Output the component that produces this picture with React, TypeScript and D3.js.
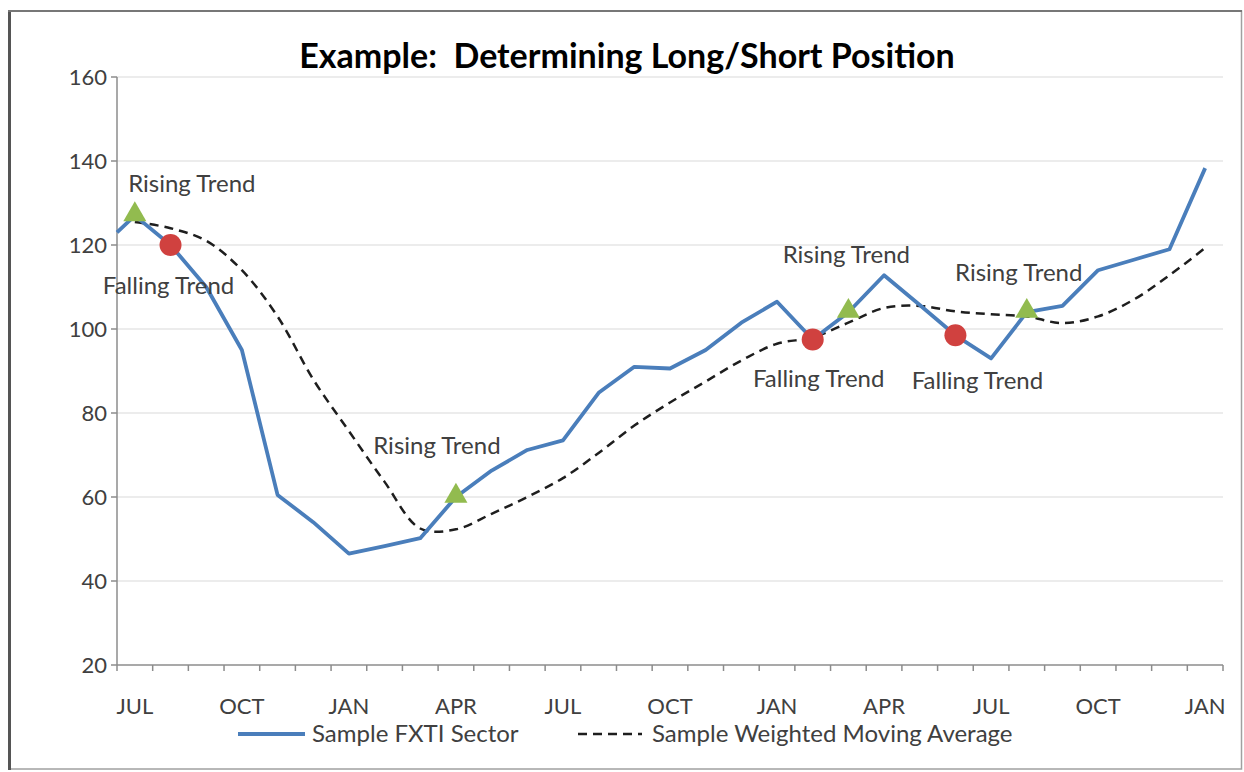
import React from 'react';
import * as d3 from 'd3';

const months = [
  'JUL', 'AUG', 'SEP', 'OCT', 'NOV', 'DEC', 'JAN', 'FEB', 'MAR', 'APR', 'MAY', 'JUN',
  'JUL', 'AUG', 'SEP', 'OCT', 'NOV', 'DEC', 'JAN', 'FEB', 'MAR', 'APR', 'MAY', 'JUN',
  'JUL', 'AUG', 'SEP', 'OCT', 'NOV', 'DEC', 'JAN',
];

// value where the sector line enters at the left edge of the plot
const sectorStart = 123;
const sectorValues = [
  127, 120, 110, 95, 60.5, 54, 46.5, 48.3, 50.2, 60, 66.3, 71.2,
  73.5, 84.8, 91, 90.6, 95, 101.5, 106.5, 97.5, 104, 112.8, 105.7, 98.5,
  93, 104, 105.5, 114, 116.5, 119, 138.3,
];
const averageValues = [
  125.5, 124, 121, 114, 103, 88, 75.7, 63.6, 52.5, 52.3, 56, 60,
  64.5, 70.5, 77, 82.5, 87.5, 92.5, 96.5, 98, 101.5, 105, 105.5, 104.2,
  103.5, 103, 101.4, 103, 107, 112.8, 119.3,
];

const yTicks = [20, 40, 60, 80, 100, 120, 140, 160];

const signalMonths = [0, 1, 9, 19, 20, 23, 25];
const signalKinds = ['rise', 'fall', 'rise', 'fall', 'rise', 'fall', 'rise'];

// label offsets from each marker, in px
const labelOffsets: [number, number][] = [
  [57, -32], [-2, 41], [-19, -51], [6, 39], [-2, -58], [22, 45], [-8, -40],
];

const W = 1244;
const H = 772;
const plot = { left: 117, right: 1223, top: 77, bottom: 665 };
const font = 'Lato, "Open Sans", sans-serif';
const blue = '#4a7ebb';
const textColor = '#404040';

export default function App() {
  const x = d3.scaleLinear().domain([-0.5, months.length - 0.5]).range([plot.left, plot.right]);
  const y = d3.scaleLinear().domain([20, 160]).range([plot.bottom, plot.top]);

  const sectorPts: [number, number][] = [[-0.5, sectorStart], ...sectorValues.map((v, i) => [i, v] as [number, number])];
  const sectorLine = d3.line<[number, number]>().x(d => x(d[0])).y(d => y(d[1]))(sectorPts) || '';
  const avgLine = d3.line<number>().x((_, i) => x(i)).y(d => y(d)).curve(d3.curveCatmullRom.alpha(0.5))(averageValues) || '';

  const tri = d3.symbol().type(d3.symbolTriangle).size(230)() || '';

  const boundaries = d3.range(months.length + 1).map(i => i - 0.5);

  return (
    <svg width={W} height={H} style={{ position: 'absolute', left: 0, top: 0, background: '#fff' }} fontFamily={font}>
      <rect x={0} y={0} width={W} height={H} fill="#fff" />
      {/* frame */}
      <rect x={9.5} y={11} width={1232} height={758} fill="none" stroke="#a0a0a0" strokeWidth={1.5} />
      <line x1={9.5} y1={10} x2={9.5} y2={770} stroke="#555" strokeWidth={3} />
      <line x1={8} y1={11} x2={1242} y2={11} stroke="#777" strokeWidth={2} />

      <text x={627} y={68} textAnchor="middle" fontSize={34} fontWeight="bold" fill="#000" style={{ whiteSpace: 'pre' }}>
        {'Example:  Determining Long/Short Position'}
      </text>

      {/* gridlines */}
      {yTicks.filter(t => t !== 20).map(t => (
        <line key={t} x1={plot.left} x2={plot.right} y1={y(t)} y2={y(t)} stroke="#d9d9d9" strokeWidth={1.2} />
      ))}

      {/* y axis */}
      <line x1={plot.left} x2={plot.left} y1={plot.top} y2={plot.bottom} stroke="#8c8c8c" strokeWidth={1.5} />
      {yTicks.map(t => (
        <g key={t}>
          <line x1={plot.left - 6} x2={plot.left} y1={y(t)} y2={y(t)} stroke="#8c8c8c" strokeWidth={1.5} />
          <text x={plot.left - 10} y={y(t)} dy="0.35em" textAnchor="end" fontSize={22} fill={textColor}>{t}</text>
        </g>
      ))}

      {/* x axis */}
      <line x1={plot.left} x2={plot.right} y1={plot.bottom} y2={plot.bottom} stroke="#8c8c8c" strokeWidth={1.5} />
      {boundaries.map(b => (
        <line key={b} x1={x(b)} x2={x(b)} y1={plot.bottom} y2={plot.bottom + 6} stroke="#8c8c8c" strokeWidth={1.5} />
      ))}
      {months.map((m, i) => i % 3 === 0 ? (
        <text key={i} x={x(i)} y={706} dy="0.35em" textAnchor="middle" fontSize={22} fill={textColor}>{m}</text>
      ) : null)}

      {/* series */}
      <path d={avgLine} fill="none" stroke="#1e1e1e" strokeWidth={2.5} strokeDasharray="9,6" />
      <path d={sectorLine} fill="none" stroke={blue} strokeWidth={3.8} strokeLinejoin="round" />

      {/* signals */}
      {signalMonths.map((m, k) => {
        const cx = x(m);
        const cy = y(sectorValues[m]);
        const kind = signalKinds[k];
        const [dx, dy] = labelOffsets[k];
        return (
          <g key={k}>
            {kind === 'rise'
              ? <path d={tri} transform={`translate(${cx},${cy - 1})`} fill="#92bb4f" />
              : <circle cx={cx} cy={cy} r={11} fill="#d0413f" />}
            <text x={cx + dx} y={cy + dy} dy="0.35em" textAnchor="middle" fontSize={24} fill={textColor}>
              {kind === 'rise' ? 'Rising Trend' : 'Falling Trend'}
            </text>
          </g>
        );
      })}

      {/* legend */}
      <line x1={238} x2={305} y1={734} y2={734} stroke={blue} strokeWidth={3.8} />
      <text x={312} y={734} dy="0.35em" fontSize={24} fill={textColor}>Sample FXTI Sector</text>
      <line x1={578} x2={642} y1={734} y2={734} stroke="#1e1e1e" strokeWidth={2.5} strokeDasharray="9,6" />
      <text x={652} y={734} dy="0.35em" fontSize={24} fill={textColor}>Sample Weighted Moving Average</text>
    </svg>
  );
}
